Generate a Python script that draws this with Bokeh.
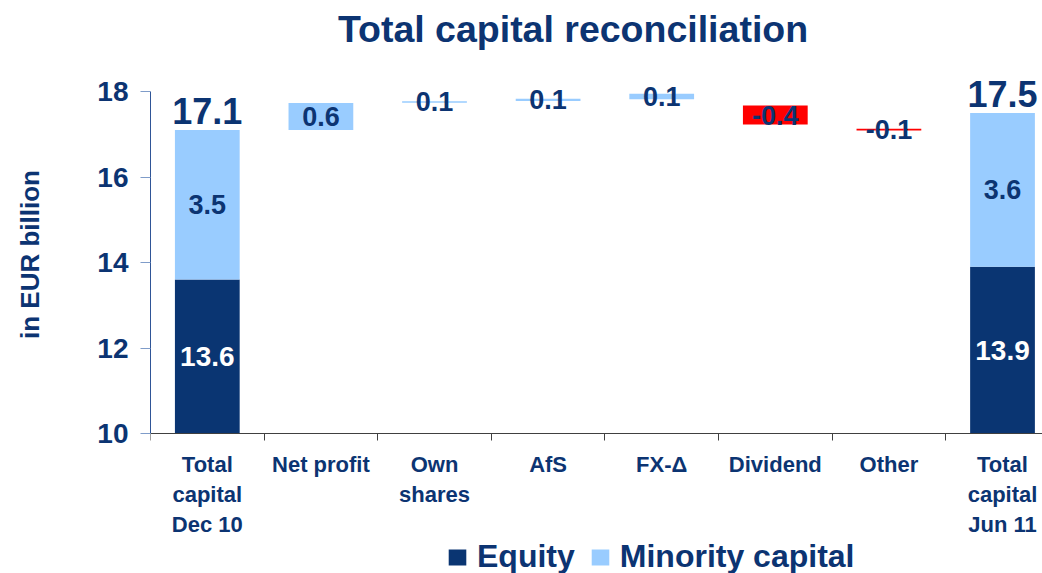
from bokeh.plotting import figure
from bokeh.models import FixedTicker, Legend, LegendItem, Range1d, Label
from bokeh.core.properties import value
from bokeh.embed import file_html
from bokeh.resources import INLINE

# ---- data ----
categories = ["Total\ncapital\nDec 10", "Net profit", "Own\nshares", "AfS", "FX-\u0394",
              "Dividend", "Other", "Total\ncapital\nJun 11"]
y_ticks = [10, 12, 14, 16, 18]

total_idx = [0, 7]
equity = [13.6, 13.9]
minority = [3.5, 3.6]
total_labels = ["17.1", "17.5"]

step_idx = [1, 2, 3, 4, 5, 6]
step_low = [17.10, 17.74, 17.78, 17.82, 17.23, 17.09]
step_high = [17.73, 17.77, 17.83, 17.95, 17.67, 17.13]
step_labels = ["0.6", "0.1", "0.1", "0.1", "-0.4", "-0.1"]

# ---- styles ----
NAVY = "#0a3572"
TXT = "#0c3472"
LIGHT = "#99ccff"
RED = "#ff0000"
FONT = "Liberation Sans"
BW = 0.57
BASE = y_ticks[0]

p = figure(width=1042, height=573, x_range=Range1d(-0.5, 7.352), y_range=Range1d(6.725, 20.129),
           output_backend="svg", toolbar_location=None,
           min_border_left=150, min_border_right=0, min_border_top=0, min_border_bottom=0)
p.title.text = ""
p.title.visible = False
p.title.standoff = 0
p.outline_line_color = None
p.grid.visible = False
p.background_fill_color = "white"

p.add_layout(Label(x=422.5, y=545, x_units="screen", y_units="screen",
                   text="Total capital reconciliation", text_font=FONT, text_font_style="bold",
                   text_font_size="37.5px", text_color=TXT, text_align="center",
                   text_baseline="alphabetic"))

top_tot = [e + m for e, m in zip(equity, minority)]
mid_eq = [(BASE + e) / 2 for e in equity]
mid_min = [(e + t) / 2 for e, t in zip(equity, top_tot)]

r_eq = p.vbar(x=total_idx, bottom=BASE, top=equity, width=BW, fill_color=NAVY, line_color=None)
r_min = p.vbar(x=total_idx, bottom=equity, top=top_tot, width=BW, fill_color=LIGHT, line_color=None)

step_colors = [RED if s.startswith("-") else LIGHT for s in step_labels]
p.vbar(x=step_idx, bottom=step_low, top=step_high, width=BW, fill_color=step_colors, line_color=None)

common = dict(text_font=value(FONT), text_font_style="bold", text_align="center")
p.text(x=total_idx, y=mid_eq, text=[f"{e:.1f}" for e in equity], text_color="white",
       text_font_size="28px", text_baseline="middle", **common)
p.text(x=total_idx, y=mid_min, text=[f"{m:.1f}" for m in minority], text_color=TXT,
       text_font_size="27px", text_baseline="middle", **common)
p.text(x=total_idx, y=top_tot, text=total_labels, text_color=TXT, y_offset=-19,
       text_font_size="36px", text_baseline="alphabetic", **common)
step_mid = [(a + b) / 2 for a, b in zip(step_low, step_high)]
p.text(x=step_idx, y=step_mid, text=step_labels, text_color=TXT,
       text_font_size="27px", text_baseline="middle", **common)

# x axis, drawn at y = 10
xa = p.xaxis[0]
xa.fixed_location = BASE
xa.ticker = FixedTicker(ticks=list(range(8)), minor_ticks=[i - 0.5 for i in range(8)])
xa.major_label_overrides = {i: c for i, c in enumerate(categories)}
xa.major_tick_line_color = None
xa.major_tick_out = 7
xa.major_tick_in = 0
xa.minor_tick_out = 7
xa.minor_tick_in = 0
xa.minor_tick_line_color = "#404040"
xa.axis_line_color = "#404040"
xa.major_label_standoff = 12
xa.major_label_text_font = FONT
xa.major_label_text_font_style = "bold"
xa.major_label_text_font_size = "22px"
xa.major_label_text_color = TXT

# y axis
ya = p.yaxis[0]
ya.bounds = (y_ticks[0], y_ticks[-1])
ya.ticker = FixedTicker(ticks=y_ticks, minor_ticks=[])
ya.major_tick_out = 10
ya.major_tick_in = 0
ya.major_tick_line_color = "#7f9cc9"
ya.axis_line_color = "#2f5597"
ya.minor_tick_line_color = None
ya.major_label_standoff = 12
ya.major_label_text_font = FONT
ya.major_label_text_font_style = "bold"
ya.major_label_text_font_size = "28px"
ya.major_label_text_color = TXT
# leading no-break spaces lift the centred label to the middle of the 10-18 span
ya.axis_label = "\u00a0" * 9 + "in EUR billion"
ya.axis_label_text_font = FONT
ya.axis_label_text_font_style = "bold"
ya.axis_label_text_font_size = "26px"
ya.axis_label_text_color = TXT
ya.axis_label_standoff = 49

legend = Legend(items=[LegendItem(label="Equity", renderers=[r_eq]),
                       LegendItem(label="Minority capital", renderers=[r_min])],
                orientation="horizontal", location=(296, -2),
                glyph_width=22, glyph_height=20, label_standoff=9, spacing=14,
                padding=0, margin=0, border_line_color=None, background_fill_alpha=0,
                label_text_font=FONT, label_text_font_style="bold",
                label_text_line_height=0.7,
                label_text_font_size="32px", label_text_color=TXT)
p.add_layout(legend, "center")

open("out.html", "w").write(file_html(p, INLINE))
